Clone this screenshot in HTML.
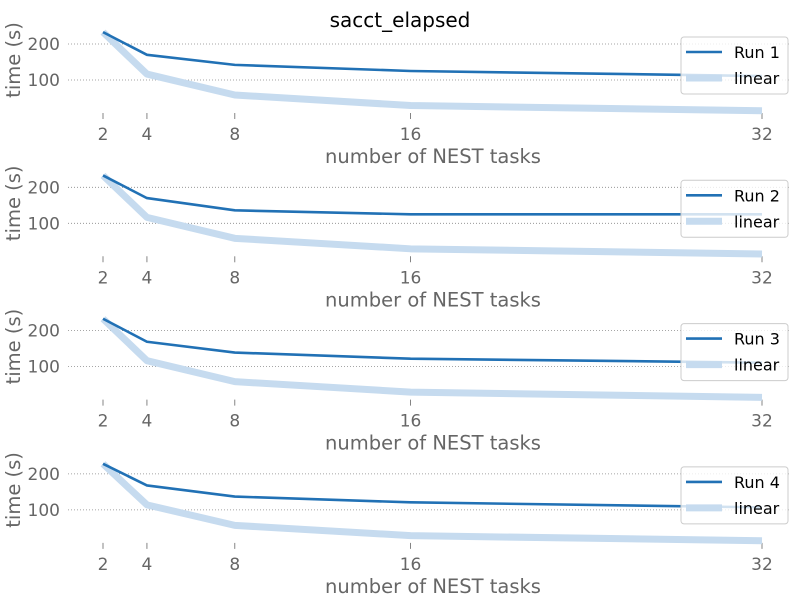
<!DOCTYPE html>
<html><head><meta charset="utf-8"><style>
body{margin:0;background:#fff;}
svg text{font-family:"DejaVu Sans","Liberation Sans",sans-serif;}
</style></head><body>
<svg id="chart" width="800" height="600" xmlns="http://www.w3.org/2000/svg">
<text x="400" y="27" text-anchor="middle" font-size="20" fill="#000">sacct_elapsed</text>
</svg>
<script>
const tasks = [2, 4, 8, 16, 32];
const xTicks = [2, 4, 8, 16, 32];
const yTicks = [100, 200];
const run1 = [233, 170, 142, 125, 111];
const run2 = [233, 170, 136, 125, 125];
const run3 = [233, 169, 139, 122, 111];
const run4 = [228, 168, 137, 121, 107];
const runNames = ["Run 1", "Run 2", "Run 3", "Run 4"];
const runs = [run1, run2, run3, run4];

const svg = document.getElementById('chart');
const NS = 'http://www.w3.org/2000/svg';
function mk(tag, attrs, parent){const e=document.createElementNS(NS,tag);for(const k in attrs)e.setAttribute(k,attrs[k]);(parent||svg).appendChild(e);return e;}
function xs(v){return 103 + (v-2)*(762-103)/30;}
const offsets=[0,143.3,286.6,429.9];

runs.forEach((data,i)=>{
  const o=offsets[i];
  const ys=v=>80+o-(v-100)*0.36;
  const g=mk('g',{});
  
  
  yTicks.forEach(t=>{
    const l=mk('line',{x1:68,x2:790,y1:ys(t),y2:ys(t),stroke:'#888','stroke-width':0.8,'stroke-dasharray':'1,2'},g);
    
    
    const tx=mk('text',{x:60,y:ys(t)+6,'text-anchor':'end','font-size':17,fill:'#666'},g);
    tx.textContent=t;
    
    
  });
  xTicks.forEach(t=>{
    const l=mk('line',{x1:xs(t),x2:xs(t),y1:o+113,y2:o+119,stroke:'#666','stroke-width':0.8},g);
    
    
    const tx=mk('text',{x:xs(t),y:o+140,'text-anchor':'middle','font-size':17,fill:'#666'},g);
    tx.textContent=t;
    
    
  });
  const yl=mk('text',{x:0,y:0,transform:`translate(20,${o+60}) rotate(-90)`,'text-anchor':'middle','font-size':19.5,fill:'#666'},g);
  yl.textContent='time (s)';
  
  
  const xl=mk('text',{x:433,y:o+163,'text-anchor':'middle','font-size':19.5,fill:'#666'},g);
  xl.textContent='number of NEST tasks';
  
  
  const lin=tasks.map(t=>data[0]*2/t);
  const lp=mk('polyline',{points:tasks.map((t,j)=>xs(t)+','+ys(lin[j])).join(' '),fill:'none',stroke:'#c6dbef','stroke-width':7,'stroke-linejoin':'round'},g);
  
  
  const rp=mk('polyline',{points:tasks.map((t,j)=>xs(t)+','+ys(data[j])).join(' '),fill:'none',stroke:'#2171b5','stroke-width':2.6,'stroke-linejoin':'round'},g);
  
  
  const lg=mk('g',{},g);
  
  
  mk('rect',{x:681,y:o+37,width:107,height:57,rx:3,fill:'#fff','fill-opacity':0.8,stroke:'#ccc','stroke-width':1},lg);
  mk('line',{x1:686,x2:722,y1:o+52,y2:o+52,stroke:'#2171b5','stroke-width':2.6},lg);
  mk('line',{x1:686,x2:722,y1:o+78,y2:o+78,stroke:'#c6dbef','stroke-width':7},lg);
  const t1=mk('text',{x:734,y:o+58,'font-size':16,fill:'#000'},lg);t1.textContent=runNames[i];
  
  
  const t2=mk('text',{x:734,y:o+84,'font-size':16,fill:'#000'},lg);t2.textContent='linear';
  
  
});
</script>
</body></html>
